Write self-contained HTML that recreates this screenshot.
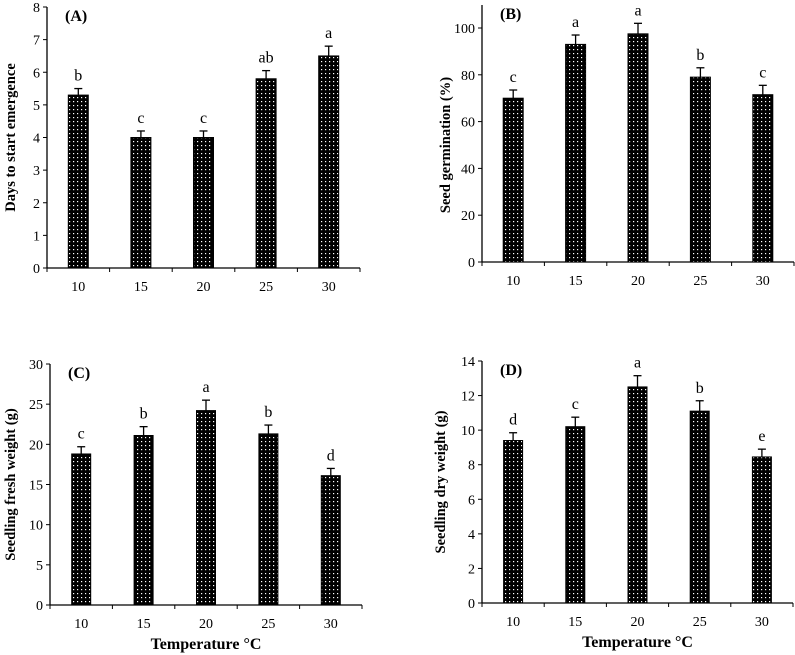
<!DOCTYPE html>
<html><head><meta charset="utf-8"><style>
body{margin:0;background:#fff;}
svg{display:block;font-family:"Liberation Serif",serif;}
</style></head><body>
<svg id="fig" width="795" height="655" viewBox="0 0 795 655">
<defs>
<pattern id="dots" width="4" height="4" patternUnits="userSpaceOnUse">
<rect width="4" height="4" fill="#000"/><rect x="1" y="1" width="1.2" height="1.2" fill="#fff"/>
</pattern>
</defs>
</svg>
<script>
const categories=["10","15","20","25","30"];
const valuesA=[5.3,4.0,4.0,5.8,6.5];
const errorsA=[0.2,0.2,0.2,0.25,0.3];
const lettersA=["b","c","c","ab","a"];
const ticksA=[0,1,2,3,4,5,6,7,8];
const valuesB=[70,93,97.5,79,71.5];
const errorsB=[3.5,4,4.5,4,4];
const lettersB=["c","a","a","b","c"];
const ticksB=[0,20,40,60,80,100];
const valuesC=[18.8,21.1,24.2,21.3,16.1];
const errorsC=[0.9,1.1,1.3,1.1,0.9];
const lettersC=["c","b","a","b","d"];
const ticksC=[0,5,10,15,20,25,30];
const valuesD=[9.4,10.2,12.5,11.1,8.45];
const errorsD=[0.45,0.55,0.65,0.6,0.45];
const lettersD=["d","c","a","b","e"];
const ticksD=[0,2,4,6,8,10,12,14];

const NS="http://www.w3.org/2000/svg";
const svg=document.getElementById("fig");
function mk(tag,attrs,parent){const e=document.createElementNS(NS,tag);for(const k in attrs)e.setAttribute(k,attrs[k]);(parent||svg).appendChild(e);return e;}

function panel(id,cfg,vals,errs,lets,ticks,ymax,ylabel,xtitle){
  const g=mk("g",{});
  
  
  const y=v=>cfg.y0-(v/ymax)*(cfg.y0-cfg.yTop);
  const step=cfg.step;
  const x=i=>cfg.x0+step*(i+0.5);
  const xEnd=cfg.x0+step*categories.length;
  const ax=mk("line",{x1:cfg.x0,y1:cfg.axTop,x2:cfg.x0,y2:cfg.y0,stroke:"#000","stroke-width":1.3},g);
  
  
  const bx=mk("line",{x1:cfg.x0,y1:cfg.y0,x2:xEnd,y2:cfg.y0,stroke:"#000","stroke-width":1.3},g);
  
  
  ticks.forEach(t=>{
    mk("line",{x1:cfg.x0-4,y1:y(t),x2:cfg.x0,y2:y(t),stroke:"#000"},g);
    const tl=mk("text",{x:cfg.x0-7,y:y(t)+5,"text-anchor":"end","font-size":14},g);
    tl.textContent=t;
    
    
  });
  for(let i=0;i<=categories.length;i++){
    mk("line",{x1:cfg.x0+step*i,y1:cfg.y0,x2:cfg.x0+step*i,y2:cfg.y0+4,stroke:"#000"},g);
  }
  categories.forEach((c,i)=>{
    const tl=mk("text",{x:x(i),y:cfg.y0+23,"text-anchor":"middle","font-size":14},g);
    tl.textContent=c;
    
    
    const bw=cfg.bw;
    const top=y(vals[i]);
    const eTop=y(vals[i]+errs[i]);
    const el=mk("line",{x1:x(i),y1:top,x2:x(i),y2:eTop,stroke:"#000","stroke-width":1.3},g);
    
    
    const cap=mk("line",{x1:x(i)-4,y1:eTop,x2:x(i)+4,y2:eTop,stroke:"#000","stroke-width":1.3},g);
    
    
    const r=mk("rect",{x:x(i)-bw/2,y:top,width:bw,height:cfg.y0-top,fill:"url(#dots)",stroke:"#000","stroke-width":1},g);
    
    
    const lt=mk("text",{x:x(i),y:eTop-8,"text-anchor":"middle","font-size":16},g);
    lt.textContent=lets[i];
    
    
  });
  const pl=mk("text",{x:cfg.x0+18,y:cfg.axTop+14,"font-size":16,"font-weight":"bold"},g);
  pl.textContent="("+id+")";
  
  
  const yl=mk("text",{x:0,y:0,"text-anchor":"middle","font-size":14.5,"font-weight":"bold",transform:`translate(${cfg.ylx},${(cfg.y0+cfg.yTop)/2}) rotate(-90)`},g);
  yl.textContent=ylabel;
  
  
  if(xtitle){
    const xt=mk("text",{x:(cfg.x0+xEnd)/2,y:cfg.y0+44,"text-anchor":"middle","font-size":16,"font-weight":"bold"},g);
    xt.textContent="Temperature  \u00B0C";
    
    
  }
}
panel("A",{x0:47,y0:268,yTop:7,axTop:7,step:62.6,bw:20,ylx:15},valuesA,errorsA,lettersA,ticksA,8,"Days to start emergence",false);
panel("B",{x0:482,y0:262,yTop:28,axTop:5,step:62.4,bw:20,ylx:450},valuesB,errorsB,lettersB,ticksB,100,"Seed germination  (%)",false);
panel("C",{x0:50,y0:605,yTop:364,axTop:364,step:62.4,bw:19,ylx:15},valuesC,errorsC,lettersC,ticksC,30,"Seedling fresh weight (g)",true);
panel("D",{x0:482,y0:603,yTop:361,axTop:361,step:62.2,bw:19,ylx:445},valuesD,errorsD,lettersD,ticksD,14,"Seedling dry weight (g)",true);
</script>
</body></html>
